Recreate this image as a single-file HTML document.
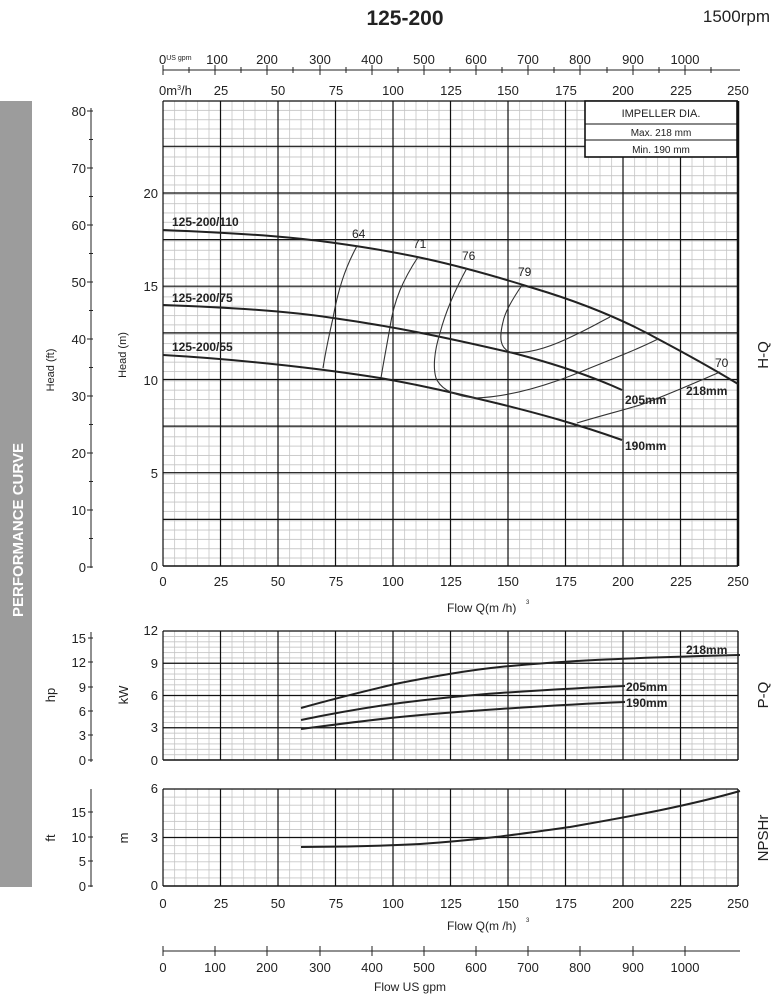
<!DOCTYPE html>
<html><head><meta charset="utf-8"><style>
body{margin:0;background:#fff;}
svg{display:block;font-family:"Liberation Sans",sans-serif;}
</style></head><body>
<svg width="780" height="1000" viewBox="0 0 780 1000" xmlns="http://www.w3.org/2000/svg">
<defs>
<pattern id="gm" x="162.6" y="100.6" width="11.5" height="9.326" patternUnits="userSpaceOnUse">
<path d="M0.4 0V9.326M0 0.4H11.5" stroke="#c4c4c4" stroke-width="0.8" fill="none"/></pattern>
<pattern id="gp" x="162.6" y="630.6" width="11.5" height="5.375" patternUnits="userSpaceOnUse">
<path d="M0.4 0V5.375M0 0.4H11.5" stroke="#c4c4c4" stroke-width="0.8" fill="none"/></pattern>
<pattern id="gn" x="162.6" y="788.6" width="11.5" height="8.083" patternUnits="userSpaceOnUse">
<path d="M0.4 0V8.083M0 0.4H11.5" stroke="#c4c4c4" stroke-width="0.8" fill="none"/></pattern>
</defs>

<text x="405" y="25" font-size="21" font-weight="bold" text-anchor="middle" fill="#222">125-200</text>
<text x="770" y="22" font-size="17" text-anchor="end" fill="#222">1500rpm</text>

<!-- sidebar -->
<rect x="0" y="101" width="32" height="786" fill="#9c9c9c"/>
<text transform="translate(23,530) rotate(-90)" font-size="15" font-weight="bold" fill="#fff" text-anchor="middle">PERFORMANCE CURVE</text>

<!-- top gpm axis -->
<g stroke="#222" stroke-width="1">
<line x1="163" y1="70" x2="740" y2="70"/>
<path d="M163 65V75M215 65V75M267 65V75M320 65V75M372 65V75M424 65V75M476 65V75M528 65V75M580 65V75M633 65V75M685 65V75M189 67V73M241 67V73M293 67V73M346 67V73M398 67V73M450 67V73M502 67V73M554 67V73M607 67V73M659 67V73M711 67V73"/>
</g>
<g font-size="13" fill="#222" text-anchor="middle">
<text x="159" y="64" text-anchor="start">0<tspan font-size="7" dy="-4">US gpm</tspan></text>
<text x="217" y="64">100</text><text x="267" y="64">200</text><text x="320" y="64">300</text><text x="372" y="64">400</text><text x="424" y="64">500</text><text x="476" y="64">600</text><text x="528" y="64">700</text><text x="580" y="64">800</text><text x="633" y="64">900</text><text x="685" y="64">1000</text>
<text x="159" y="95" text-anchor="start">0m<tspan font-size="7" dy="-5">3</tspan><tspan dy="5">/h</tspan></text>
<text x="221" y="95">25</text><text x="278" y="95">50</text><text x="336" y="95">75</text><text x="393" y="95">100</text><text x="451" y="95">125</text><text x="508" y="95">150</text><text x="566" y="95">175</text><text x="623" y="95">200</text><text x="681" y="95">225</text><text x="738" y="95">250</text>
</g>

<!-- main plot grid -->
<rect x="163" y="101" width="575" height="465" fill="url(#gm)"/>
<g stroke="#111" stroke-width="1.2" fill="none">
<path d="M220.5 101V566M278 101V566M335.5 101V566M393 101V566M450.5 101V566M508 101V566M565.5 101V566M623 101V566M680.5 101V566"/>
<path d="M163 519.4H738M163 472.7H738M163 426.1H738M163 379.5H738M163 332.9H738M163 286.2H738M163 239.6H738M163 193H738M163 146.3H738M163 101H738"/>
</g>
<line x1="163" y1="101" x2="163" y2="566" stroke="#111" stroke-width="1.2"/>
<line x1="163" y1="566" x2="738" y2="566" stroke="#111" stroke-width="1.4"/>
<line x1="738" y1="101" x2="738" y2="566" stroke="#111" stroke-width="2.5"/>

<!-- impeller box -->
<rect x="585" y="101" width="152" height="56" fill="#fff" stroke="#111" stroke-width="1.6"/>
<line x1="585" y1="124" x2="737" y2="124" stroke="#111"/>
<line x1="585" y1="140" x2="737" y2="140" stroke="#111"/>
<g font-size="11" fill="#222" text-anchor="middle">
<text x="661" y="117">IMPELLER DIA.</text>
<text x="661" y="136" font-size="10">Max.  218  mm</text>
<text x="661" y="153" font-size="10">Min.   190  mm</text>
</g>

<!-- head m axis labels -->
<g font-size="13" fill="#222" text-anchor="end">
<text x="158" y="198">20</text><text x="158" y="291">15</text><text x="158" y="385">10</text><text x="158" y="478">5</text><text x="158" y="571">0</text>
</g>
<text transform="translate(126,355) rotate(-90)" font-size="11" fill="#222" text-anchor="middle">Head (m)</text>

<!-- ft axis -->
<g stroke="#222" stroke-width="1">
<line x1="91" y1="108" x2="91" y2="568"/>
<path d="M87 111H93M87 168H93M87 225H93M87 282H93M87 339H93M87 396H93M87 453H93M87 510H93M87 567H93M89 139.5H93M89 196.5H93M89 253.5H93M89 310.5H93M89 367.5H93M89 424.5H93M89 481.5H93M89 538.5H93"/>
</g>
<g font-size="13" fill="#222" text-anchor="end">
<text x="86" y="116">80</text><text x="86" y="173">70</text><text x="86" y="230">60</text><text x="86" y="287">50</text><text x="86" y="344">40</text><text x="86" y="401">30</text><text x="86" y="458">20</text><text x="86" y="515">10</text><text x="86" y="572">0</text>
</g>
<text transform="translate(54,370) rotate(-90)" font-size="11" fill="#222" text-anchor="middle">Head (ft)</text>

<!-- x labels main -->
<g font-size="13" fill="#222" text-anchor="middle">
<text x="163" y="586">0</text><text x="221" y="586">25</text><text x="278" y="586">50</text><text x="336" y="586">75</text><text x="393" y="586">100</text><text x="451" y="586">125</text><text x="508" y="586">150</text><text x="566" y="586">175</text><text x="623" y="586">200</text><text x="681" y="586">225</text><text x="738" y="586">250</text>
</g>
<text x="447" y="612" font-size="12" fill="#222">Flow  Q(m /h)</text>
<text x="526" y="604" font-size="6" fill="#222">3</text>

<!-- H-Q curves -->
<g fill="none" stroke="#222" stroke-width="2">
<path d="M163 230 C260 234 300 238 335 243 C400 252 450 262 533 288 C580 302 620 318 658 339 C690 356 715 370 738 384"/>
<path d="M163 305 C250 308 300 313 333 318 C390 326 440 336 517 354 C570 368 600 380 622 390"/>
<path d="M163 355 C250 360 330 370 380 378 C420 385 450 392 500 404 C540 414 577 424 622 440"/>
</g>
<g fill="none" stroke="#333" stroke-width="1.1">
<path d="M357 246 C345 268 338 290 333 318 C328 340 325 355 323 368"/>
<path d="M418 257 C403 280 394 300 390 327 C386 350 383 365 381 378"/>
<path d="M467 268 C455 290 446 310 440 333 C434 352 433 368 436 378 C441 390 455 396 475 398 C510 397 550 385 590 368 C620 356 640 348 658 339"/>
<path d="M522 285 C512 300 505 312 503 322 C499 338 500 348 510 352 C530 355 555 345 575 335 C590 328 600 322 610 317"/>
<path d="M577 423 C600 416 620 411 640 405 C665 396 690 385 720 372"/>
</g>
<g font-size="12" fill="#222">
<text x="352" y="238">64</text><text x="413" y="248">71</text><text x="462" y="260">76</text><text x="518" y="276">79</text><text x="715" y="367">70</text>
</g>
<g font-size="12" font-weight="bold" fill="#222">
<text x="172" y="226">125-200/110</text>
<text x="172" y="302">125-200/75</text>
<text x="172" y="351">125-200/55</text>
<text x="625" y="404">205mm</text>
<text x="686" y="395">218mm</text>
<text x="625" y="450">190mm</text>
</g>
<text transform="translate(768,355) rotate(-90)" font-size="15" fill="#222" text-anchor="middle">H-Q</text>

<!-- P-Q panel -->
<rect x="163" y="631" width="575" height="129" fill="url(#gp)"/>
<g stroke="#111" stroke-width="1.2" fill="none">
<path d="M220.5 631V760M278 631V760M335.5 631V760M393 631V760M450.5 631V760M508 631V760M565.5 631V760M623 631V760M680.5 631V760"/>
<path d="M163 631H738M163 663.25H738M163 695.5H738M163 727.75H738"/>
</g>
<line x1="163" y1="631" x2="163" y2="760" stroke="#111" stroke-width="1.2"/>
<line x1="163" y1="760" x2="738" y2="760" stroke="#111" stroke-width="1.4"/>
<line x1="738" y1="631" x2="738" y2="760" stroke="#111" stroke-width="1.4"/>
<g font-size="13" fill="#222" text-anchor="end">
<text x="158" y="635">12</text><text x="158" y="668">9</text><text x="158" y="700">6</text><text x="158" y="732">3</text><text x="158" y="765">0</text>
</g>
<text transform="translate(128,695) rotate(-90)" font-size="13" fill="#222" text-anchor="middle">kW</text>
<g stroke="#222" stroke-width="1">
<line x1="91" y1="632" x2="91" y2="762"/>
<path d="M88 638H93M88 662H93M88 687H93M88 711H93M88 735H93M88 760H93"/>
</g>
<g font-size="13" fill="#222" text-anchor="end">
<text x="86" y="643">15</text><text x="86" y="667">12</text><text x="86" y="692">9</text><text x="86" y="716">6</text><text x="86" y="740">3</text><text x="86" y="765">0</text>
</g>
<text transform="translate(55,695) rotate(-90)" font-size="13" fill="#222" text-anchor="middle">hp</text>
<g fill="none" stroke="#222" stroke-width="2">
<path d="M301 708 C340 697 370 690 395 684 C440 675 470 670 500 667 C560 661 620 658 740 655"/>
<path d="M301 720 C340 712 370 707 400 703 C440 698 470 695 500 693 C560 689 600 687 625 686"/>
<path d="M301 729 C340 724 370 720 400 717 C440 713 470 711 500 709 C560 705 600 703 625 702"/>
</g>
<g font-size="12" font-weight="bold" fill="#222">
<text x="686" y="654">218mm</text><text x="626" y="691">205mm</text><text x="626" y="707">190mm</text>
</g>
<text transform="translate(768,695) rotate(-90)" font-size="15" fill="#222" text-anchor="middle">P-Q</text>

<!-- NPSH panel -->
<rect x="163" y="789" width="575" height="97" fill="url(#gn)"/>
<g stroke="#111" stroke-width="1.2" fill="none">
<path d="M220.5 789V886M278 789V886M335.5 789V886M393 789V886M450.5 789V886M508 789V886M565.5 789V886M623 789V886M680.5 789V886"/>
<path d="M163 789H738M163 837.5H738"/>
</g>
<line x1="163" y1="789" x2="163" y2="886" stroke="#111" stroke-width="1.2"/>
<line x1="163" y1="886" x2="738" y2="886" stroke="#111" stroke-width="1.4"/>
<line x1="738" y1="789" x2="738" y2="886" stroke="#111" stroke-width="1.4"/>
<g font-size="13" fill="#222" text-anchor="end">
<text x="158" y="793">6</text><text x="158" y="842">3</text><text x="158" y="890">0</text>
</g>
<text transform="translate(128,838) rotate(-90)" font-size="13" fill="#222" text-anchor="middle">m</text>
<g stroke="#222" stroke-width="1">
<line x1="91" y1="789" x2="91" y2="887"/>
<path d="M88 812H93M88 837H93M88 861H93M88 886H93"/>
</g>
<g font-size="13" fill="#222" text-anchor="end">
<text x="86" y="817">15</text><text x="86" y="842">10</text><text x="86" y="866">5</text><text x="86" y="891">0</text>
</g>
<text transform="translate(55,838) rotate(-90)" font-size="13" fill="#222" text-anchor="middle">ft</text>
<path d="M301 847 C350 847 380 846 420 844 C480 840 520 834 570 827 C620 818 680 808 740 791" fill="none" stroke="#222" stroke-width="2"/>
<text transform="translate(768,838) rotate(-90)" font-size="15" fill="#222" text-anchor="middle">NPSHr</text>

<g font-size="13" fill="#222" text-anchor="middle">
<text x="163" y="908">0</text><text x="221" y="908">25</text><text x="278" y="908">50</text><text x="336" y="908">75</text><text x="393" y="908">100</text><text x="451" y="908">125</text><text x="508" y="908">150</text><text x="566" y="908">175</text><text x="623" y="908">200</text><text x="681" y="908">225</text><text x="738" y="908">250</text>
</g>
<text x="447" y="930" font-size="12" fill="#222">Flow  Q(m /h)</text>
<text x="526" y="922" font-size="6" fill="#222">3</text>

<!-- bottom gpm axis -->
<g stroke="#222" stroke-width="1">
<line x1="163" y1="951" x2="740" y2="951"/>
<path d="M163 946V956M215 946V956M267 946V956M320 946V956M372 946V956M424 946V956M476 946V956M528 946V956M580 946V956M633 946V956M685 946V956"/>
</g>
<g font-size="13" fill="#222" text-anchor="middle">
<text x="163" y="972">0</text><text x="215" y="972">100</text><text x="267" y="972">200</text><text x="320" y="972">300</text><text x="372" y="972">400</text><text x="424" y="972">500</text><text x="476" y="972">600</text><text x="528" y="972">700</text><text x="580" y="972">800</text><text x="633" y="972">900</text><text x="685" y="972">1000</text>
</g>
<text x="410" y="991" font-size="12" fill="#222" text-anchor="middle">Flow  US gpm</text>
</svg>
</body></html>
